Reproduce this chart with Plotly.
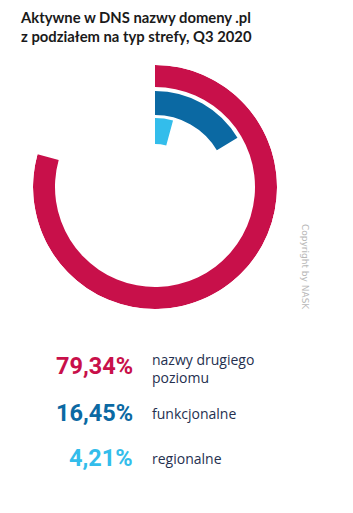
import plotly.graph_objects as go

title_lines = ["Aktywne w DNS nazwy domeny .pl", "z podziałem na typ strefy, Q3 2020"]
categories = ["nazwy drugiego<br>poziomu", "funkcjonalne", "regionalne"]
values = [79.34, 16.45, 4.21]
value_labels = ["79,34%", "16,45%", "4,21%"]
colors = ["#C8104A", "#0B69A3", "#33BDEB"]
ring_base = [100, 72, 43]
ring_thickness = [22, 24, 26]

W, H = 353, 513
def py(y):
    return 1 - y / H
def px(x):
    return x / W

fig = go.Figure()
for v, c, b, t, name in zip(values, colors, ring_base, ring_thickness, categories):
    span = v * 3.6
    fig.add_trace(go.Barpolar(
        r=[t], base=[b], theta=[span / 2], width=[span],
        marker=dict(color=c, line=dict(width=0)),
        name=name, hoverinfo="skip", showlegend=False,
    ))

cx, cy, R = 155, 187, 122
fig.update_layout(
    width=W, height=H,
    margin=dict(l=0, r=0, t=0, b=0),
    paper_bgcolor="white", plot_bgcolor="white",
    polar=dict(
        domain=dict(x=[px(cx - R), px(cx + R)], y=[py(cy + R), py(cy - R)]),
        bgcolor="rgba(0,0,0,0)",
        radialaxis=dict(range=[0, 122], visible=False, showgrid=False),
        angularaxis=dict(direction="clockwise", rotation=90, visible=False, showgrid=False),
        hole=0,
    ),
)

ann = []
ann.append(dict(text="<br>".join(title_lines), x=px(18), y=py(6), xanchor="left", yanchor="top",
                align="left", showarrow=False,
                font=dict(family="Lato", size=14.8, color="#1a1a1a", weight=700)))
num_y = [366, 413, 458]
lab_y = [368, 413, 458]
for lbl, cat, c, ny, ly in zip(value_labels, categories, colors, num_y, lab_y):
    ann.append(dict(text="<b>" + lbl + "</b>", x=px(135), y=py(ny), xanchor="right", yanchor="middle",
                    showarrow=False, font=dict(family="Roboto", size=23.5, color=c)))
    ann.append(dict(text=cat, x=px(150), y=py(ly), xanchor="left", yanchor="middle", align="left",
                    showarrow=False, font=dict(family="Open Sans", size=14, color="#25304f")))
ann.append(dict(text="Copyright by NASK", x=px(305), y=py(267), textangle=90, showarrow=False,
                xanchor="center", yanchor="middle",
                font=dict(family="DejaVu Sans", size=9, color="#b8b8b8")))
fig.update_layout(annotations=ann)

fig.write_html("out.html")
